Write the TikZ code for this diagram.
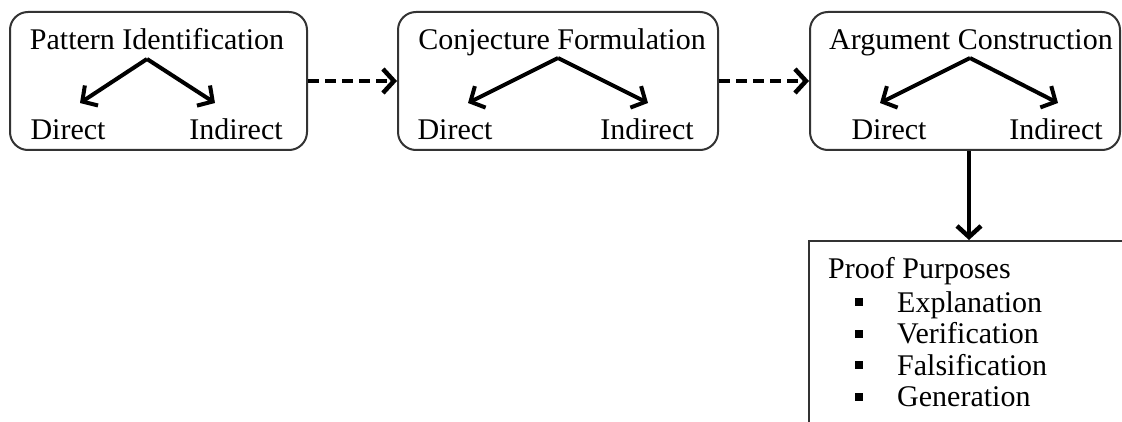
\documentclass[tikz,border=0pt]{standalone}
\usepackage{fontspec}
\setmainfont{Liberation Serif}
\usetikzlibrary{arrows.meta}
\begin{document}
\begin{tikzpicture}[x=1pt,y=-1pt,
  every node/.style={font=\fontsize{30}{36}\selectfont, inner sep=0pt},
  box/.style={draw=black!80, line width=2pt, rounded corners=18pt},
  lbl/.style={anchor=base},
  lblw/.style={anchor=base west},
  split/.style={line width=4pt, -{Straight Barb[length=11pt,width=24pt]}},
  dasharrow/.style={line width=4.5pt, dash pattern=on 11pt off 6pt, -{Straight Barb[length=11pt,width=24pt]}},
  downarrow/.style={line width=4.5pt, -{Straight Barb[length=11pt,width=24pt]}},
  pbox/.style={draw=black!80, line width=2pt},
  bullet/.style={fill=black, minimum size=8pt, inner sep=0pt}
]
\useasboundingbox (0,0) rectangle (1122,422);
\clip (0,0) rectangle (1122,422);

% boxes
\node[box, minimum width=297pt, minimum height=138pt] (b1) at (158.5,81) {};
\node[box, minimum width=320pt, minimum height=138pt] (b2) at (558,81) {};
\node[box, minimum width=310pt, minimum height=138pt] (b3) at (965,81) {};
\node[pbox, minimum width=320pt, minimum height=199pt] (pp) at (969,340.5) {};

% box 1
\node[lbl] (t1) at (157,50) {Pattern Identification};
\node[lbl] (d1) at (68,140) {Direct};
\node[lbl] (i1) at (236,140) {Indirect};
\coordinate (a1) at (147,59);
\coordinate (l1) at (80,103);
\coordinate (r1) at (215,103);
\draw[split] (a1) -- (l1);
\draw[split] (a1) -- (r1);

% box 2
\node[lbl] (t2) at (562,50) {Conjecture Formulation};
\node[lbl] (d2) at (455,140) {Direct};
\node[lbl] (i2) at (647,140) {Indirect};
\coordinate (a2) at (558,58);
\coordinate (l2) at (468,103);
\coordinate (r2) at (648,103);
\draw[split] (a2) -- (l2);
\draw[split] (a2) -- (r2);

% box 3
\node[lbl] (t3) at (971,50) {Argument Construction};
\node[lbl] (d3) at (889,140) {Direct};
\node[lbl] (i3) at (1056,140) {Indirect};
\coordinate (a3) at (970,58);
\coordinate (l3) at (880,103);
\coordinate (r3) at (1058,103);
\draw[split] (a3) -- (l3);
\draw[split] (a3) -- (r3);

% connectors
\draw[dasharrow] (b1.east) -- (b2.west);
\draw[dasharrow] (b2.east) -- (b3.west);
\draw[downarrow] (b3.south -| pp.north) -- (pp.north);

% proof purposes
\node[lblw] (pt) at (828,279) {Proof Purposes};
\node[bullet] (s1) at (858.5,302) {};
\node[bullet] (s2) at (858.5,334) {};
\node[bullet] (s3) at (858.5,365) {};
\node[bullet] (s4) at (858.5,397) {};
\node[lblw] (e1) at (897,312) {Explanation};
\node[lblw] (e2) at (897,343.5) {Verification};
\node[lblw] (e3) at (897,375) {Falsification};
\node[lblw] (e4) at (897,406.5) {Generation};
\end{tikzpicture}
\end{document}
